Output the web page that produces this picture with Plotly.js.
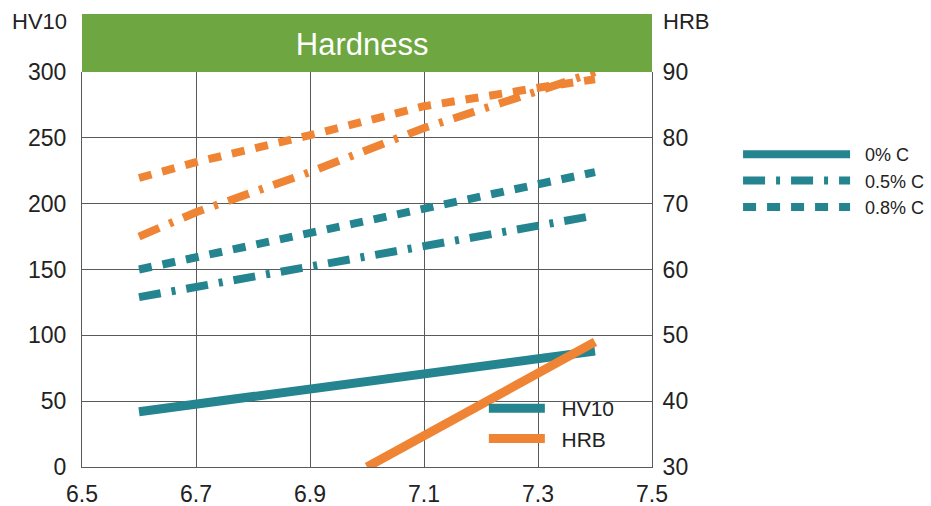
<!DOCTYPE html>
<html>
<head>
<meta charset="utf-8">
<script src="https://cdn.plot.ly/plotly-3.0.1.min.js"></script>
<style>html,body{margin:0;padding:0;background:#fff;}#chart{width:931px;height:506px;}</style>
</head>
<body>
<div id="chart"></div>
<script>
// Data
const density = [6.6, 7.4];
const hv10_0C = [42, 88];
const hv10_05C = [129, 191];
const hv10_08C = [150, 224];
const densityHrb0 = [7.0, 7.4];
const hrb_0C = [30, 49];
const densityHrb = [6.6, 6.7, 6.9, 7.1, 7.3, 7.4];
const hrb_05C = [65, 68.7, 74.8, 81.5, 87.1, 90];
const hrb_08C = [73.9, 76.3, 80.4, 84.8, 87.6, 88.9];
const xTicks = [6.5, 6.7, 6.9, 7.1, 7.3, 7.5];
const hvTicks = [0, 50, 100, 150, 200, 250, 300];
const hrbTicks = [30, 40, 50, 60, 70, 80, 90];
const propertyNames = ['HV10', 'HRB'];
const carbonNames = ['0% C', '0.5% C', '0.8% C'];

const TEAL = '#24848f';
const ORANGE = '#ee8434';
const GREEN = '#6ea641';
const DASH = '13px,11px';
const DASHDOT = '22px,11px,4px,11px';
const FONT = 'Liberation Sans, Arial, sans-serif';
const SP = '\u00a0\u00a0';

const traces = [
  {x: density, y: hv10_0C, mode: 'lines', line: {color: TEAL, width: 9}, showlegend: false, yaxis: 'y'},
  {x: density, y: hv10_05C, mode: 'lines', line: {color: TEAL, width: 8, dash: DASHDOT}, showlegend: false, yaxis: 'y'},
  {x: density, y: hv10_08C, mode: 'lines', line: {color: TEAL, width: 8, dash: DASH}, showlegend: false, yaxis: 'y'},
  {x: densityHrb0, y: hrb_0C, mode: 'lines', line: {color: ORANGE, width: 9}, showlegend: false, yaxis: 'y2'},
  {x: densityHrb, y: hrb_05C, mode: 'lines', line: {color: ORANGE, width: 8, dash: DASHDOT}, showlegend: false, yaxis: 'y2'},
  {x: densityHrb, y: hrb_08C, mode: 'lines', line: {color: ORANGE, width: 8, dash: DASH}, showlegend: false, yaxis: 'y2'},
  // legend entries
  {x: [null], y: [null], mode: 'lines', name: SP + propertyNames[0], line: {color: TEAL, width: 9}, legend: 'legend'},
  {x: [null], y: [null], mode: 'lines', name: SP + propertyNames[1], line: {color: ORANGE, width: 9}, legend: 'legend'},
  {x: [null], y: [null], mode: 'lines', name: SP + carbonNames[0], line: {color: TEAL, width: 8}, legend: 'legend2'},
  {x: [null], y: [null], mode: 'lines', name: SP + carbonNames[1], line: {color: TEAL, width: 8, dash: DASHDOT}, legend: 'legend2'},
  {x: [null], y: [null], mode: 'lines', name: SP + carbonNames[2], line: {color: TEAL, width: 8, dash: DASH}, legend: 'legend2'}
];

const gridColor = '#5a5a5a';
const layout = {
  width: 931, height: 506,
  margin: {l: 82, r: 279, t: 72, b: 39, pad: 0, autoexpand: false},
  paper_bgcolor: '#fff', plot_bgcolor: '#fff',
  font: {family: FONT, color: '#222', size: 20},
  title: {text: 'Hardness', x: 0.389, xref: 'container', y: 0.913, yref: 'container', yanchor: 'middle', xanchor: 'center',
          font: {family: FONT, size: 31, color: '#fff'}},
  xaxis: {range: [6.5, 7.5], tickvals: xTicks, tickformat: '.1f', showgrid: true, gridcolor: gridColor, gridwidth: 1,
          showline: true, linecolor: gridColor, linewidth: 1, mirror: false, zeroline: false, ticks: '', ticklabelstandoff: 6,
          tickfont: {size: 23, color: '#222'}, fixedrange: true},
  yaxis: {range: [0, 300], tickvals: hvTicks, showgrid: true, gridcolor: gridColor, gridwidth: 1,
          showline: true, linecolor: gridColor, linewidth: 1, zeroline: false, ticks: '', ticklabelstandoff: 10,
          tickfont: {size: 23, color: '#222'}, fixedrange: true},
  yaxis2: {range: [30, 90], tickvals: hrbTicks, overlaying: 'y', side: 'right', showgrid: false,
           showline: true, linecolor: gridColor, linewidth: 1, zeroline: false, ticks: '', ticklabelstandoff: 5,
           tickfont: {size: 23, color: '#222'}, fixedrange: true},
  shapes: [
    {type: 'rect', xref: 'paper', yref: 'paper', x0: 0, x1: 1, y0: 1, y1: 1.147, fillcolor: GREEN, line: {width: 0}, layer: 'below'}
  ],
  annotations: [
    {text: propertyNames[0], xref: 'paper', yref: 'paper', x: -0.074, y: 1.128, showarrow: false, xanchor: 'center', yanchor: 'middle', font: {size: 22, color: '#222'}},
    {text: propertyNames[1], xref: 'paper', yref: 'paper', x: 1.06, y: 1.128, showarrow: false, xanchor: 'center', yanchor: 'middle', font: {size: 22, color: '#222'}}
  ],
  legend: {x: 0.705, y: 0.2, xanchor: 'left', yanchor: 'top', bgcolor: 'rgba(0,0,0,0)', font: {size: 21, color: '#222'}, itemwidth: 56, tracegroupgap: 0},
  legend2: {x: 1.151, y: 0.838, xanchor: 'left', yanchor: 'top', bgcolor: 'rgba(0,0,0,0)', font: {size: 18, color: '#222'}, itemwidth: 107, tracegroupgap: 0}
};

Plotly.newPlot('chart', traces, layout, {displayModeBar: false, staticPlot: true});
</script>
</body>
</html>
